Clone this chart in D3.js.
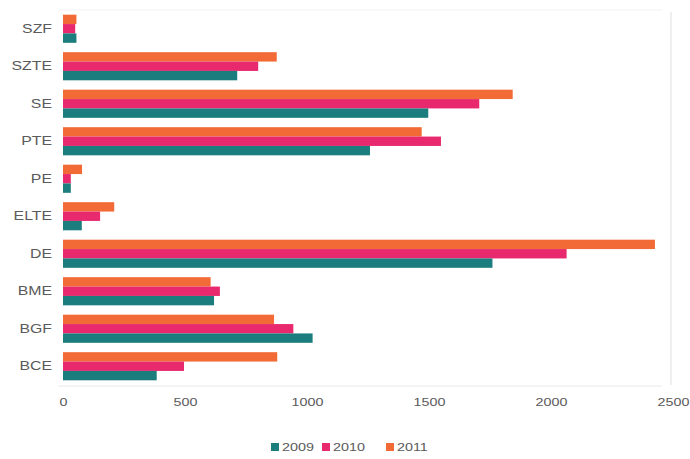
<!DOCTYPE html>
<html><head><meta charset="utf-8">
<script src="https://cdn.jsdelivr.net/npm/d3@7"></script>
<style>body{margin:0;background:#fff;}svg{display:block;font-family:"Liberation Sans",Arial,sans-serif;}</style>
</head><body>
<svg id="c" width="690" height="459"></svg>
<script>
const categories = ["SZF","SZTE","SE","PTE","PE","ELTE","DE","BME","BGF","BCE"];
const seriesNames = ["2011","2010","2009"];
const values2011 = [55, 876, 1843, 1470, 78, 210, 2426, 605, 865, 878];
const values2010 = [50, 800, 1706, 1549, 32, 152, 2064, 643, 944, 496];
const values2009 = [55, 714, 1497, 1258, 32, 77, 1760, 619, 1023, 384];
const xTicks = [0, 500, 1000, 1500, 2000, 2500];
const legendOrder = ["2009","2010","2011"];
const colors = {"2009":"#1b7d7e","2010":"#e8296e","2011":"#f26b36"};

const seriesValues = {"2011":values2011,"2010":values2010,"2009":values2009};
const svg = d3.select("#c");
const x = d3.scaleLinear().domain([0,2500]).range([63,673]);
const y = d3.scaleBand().domain(categories).range([10,385]).paddingInner(0.25).paddingOuter(0.125);
const ys = d3.scaleBand().domain(seriesNames).range([0,y.bandwidth()]);

// frame lines
svg.append("line").attr("x1",58).attr("x2",662).attr("y1",10).attr("y2",10).attr("stroke","#f3f3f3");
svg.append("line").attr("x1",671).attr("x2",671).attr("y1",12).attr("y2",385).attr("stroke","#efefef").attr("stroke-width",2);
svg.append("line").attr("x1",58).attr("x2",662).attr("y1",386).attr("y2",386).attr("stroke","#e8e8e8");

const g = svg.append("g");
categories.forEach((c,i)=>{
  seriesNames.forEach(s=>{
    g.append("rect")
      .attr("x",x(0))
      .attr("y",y(c)+ys(s))
      .attr("width",x(seriesValues[s][i])-x(0))
      .attr("height",ys.bandwidth())
      .attr("fill",colors[s]);
  });
});

// y axis
const ya = svg.append("g").attr("transform","translate(52,0)").call(d3.axisLeft(y).tickSize(0).tickPadding(0));
ya.select(".domain").remove();
ya.selectAll("text").attr("fill","#5a5a5a").attr("font-size","12px").attr("font-family","Liberation Sans, Arial, sans-serif")
  .attr("transform","scale(1.32,1)");

// x axis
const xa = svg.append("g").attr("transform","translate(0,394)").call(d3.axisBottom(x).tickValues(xTicks).tickSize(0).tickPadding(4).tickFormat(d3.format("d")));
xa.select(".domain").remove();
xa.selectAll("text").attr("fill","#5a5a5a").attr("font-size","11px").attr("font-family","Liberation Sans, Arial, sans-serif")
  .attr("transform","scale(1.3,1)");

// legend
const legX = [271, 322, 386];
const leg = svg.append("g");
legendOrder.forEach((s,i)=>{
  leg.append("rect").attr("x",legX[i]).attr("y",443).attr("width",8).attr("height",8).attr("fill",colors[s]);
  leg.append("text").attr("x",(legX[i]+11)/1.25).attr("y",451.5).text(s).attr("fill","#5a5a5a").attr("font-size","11.5px")
    .attr("transform","scale(1.25,1)");
});
</script>
</body></html>
